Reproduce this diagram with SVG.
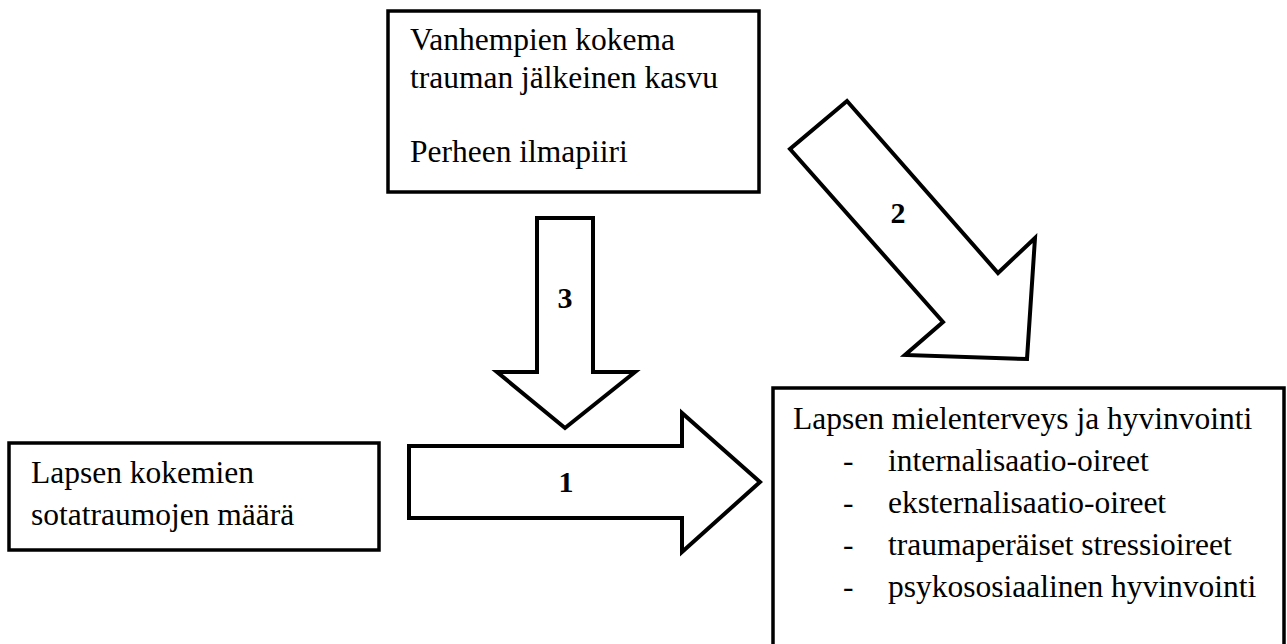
<svg xmlns="http://www.w3.org/2000/svg" width="1287" height="644" viewBox="0 0 1287 644">
<style>
.box{fill:#fff;stroke:#000;stroke-width:3.5}
.arr{fill:#fff;stroke:#000;stroke-width:4;stroke-linejoin:miter}
.t{font-family:"Liberation Serif","Times New Roman",serif;font-size:31.5px;fill:#000}
.n{font-family:"Liberation Serif","Times New Roman",serif;font-size:30px;font-weight:bold;fill:#000;text-anchor:middle}
</style>
<rect width="1287" height="644" fill="#fff"/>
<g id="connectors">
<g id="arrow3">
<polygon class="arr" points="537,218 593,218 593,372 635,372 565,428 497,372 537,372"/>
<text class="n" x="565" y="308">3</text>
</g>
<g id="arrow1">
<polygon class="arr" points="409,446 682,446 682,413 760,482 682,552 682,518 409,518"/>
<text class="n" x="566" y="492">1</text>
</g>
<g id="arrow2">
<polygon class="arr" points="847,101 998,273 1035,238 1027,359 905,355 943,322 790,149"/>
<text class="n" x="898" y="223">2</text>
</g>
</g>
<g id="node-parents">
<rect class="box" x="388" y="11" width="371" height="181"/>
<text class="t" x="410" y="50">Vanhempien kokema</text>
<text class="t" x="410" y="88">trauman jälkeinen kasvu</text>
<text class="t" x="410" y="162">Perheen ilmapiiri</text>
</g>
<g id="node-child-trauma">
<rect class="box" x="9" y="443" width="370" height="107"/>
<text class="t" x="31" y="483">Lapsen kokemien</text>
<text class="t" x="31" y="525">sotatraumojen määrä</text>
</g>
<g id="node-outcome">
<rect class="box" x="773" y="388" width="511" height="300"/>
<text class="t" x="793" y="429">Lapsen mielenterveys ja hyvinvointi</text>
<text class="t" x="843" y="471">-</text>
<text class="t" x="888" y="471">internalisaatio-oireet</text>
<text class="t" x="843" y="513">-</text>
<text class="t" x="888" y="513">eksternalisaatio-oireet</text>
<text class="t" x="843" y="555">-</text>
<text class="t" x="888" y="555">traumaperäiset stressioireet</text>
<text class="t" x="843" y="597">-</text>
<text class="t" x="888" y="597">psykososiaalinen hyvinvointi</text>
</g>
</svg>
